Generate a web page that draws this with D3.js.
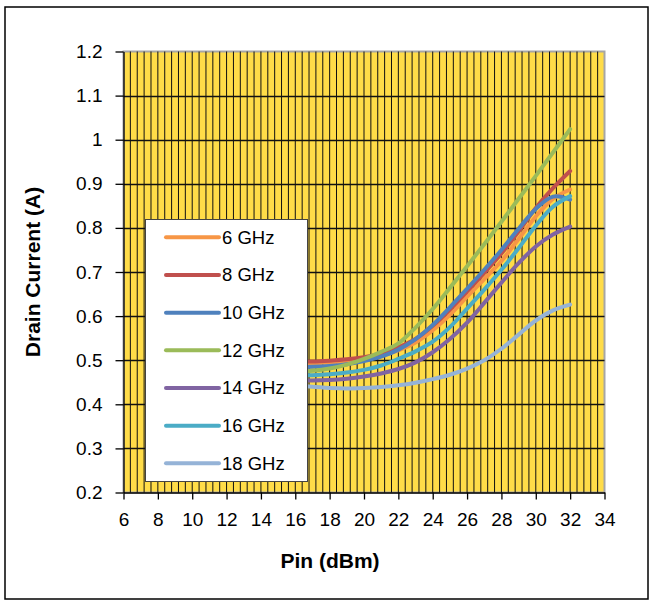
<!DOCTYPE html>
<html>
<head>
<meta charset="utf-8">
<script src="https://cdn.jsdelivr.net/npm/d3@7"></script>
<style>
  body { margin: 0; background: #fff; }
  svg { display: block; font-family: "Liberation Sans", Arial, sans-serif; }
</style>
</head>
<body>
<svg id="chart" width="653" height="604"></svg>
<script>
// input power steps (dBm)
const pin = [16, 17, 18, 19, 20, 21, 22, 23, 24, 25, 26, 27, 28, 29, 30, 31, 32];
// drain current (A) per frequency
const ghz6  = [0.494, 0.493, 0.495, 0.498, 0.503, 0.510, 0.522, 0.540, 0.568, 0.603, 0.644, 0.684, 0.725, 0.775, 0.826, 0.866, 0.887];
const ghz8  = [0.497, 0.497, 0.499, 0.502, 0.507, 0.515, 0.529, 0.548, 0.578, 0.615, 0.656, 0.698, 0.742, 0.792, 0.845, 0.890, 0.929];
const ghz10 = [0.485, 0.485, 0.487, 0.491, 0.498, 0.508, 0.524, 0.548, 0.580, 0.620, 0.662, 0.705, 0.750, 0.798, 0.843, 0.871, 0.864];
const ghz12 = [0.474, 0.476, 0.481, 0.490, 0.503, 0.519, 0.538, 0.574, 0.616, 0.664, 0.713, 0.763, 0.814, 0.866, 0.918, 0.971, 1.024];
const ghz14 = [0.455, 0.454, 0.455, 0.458, 0.463, 0.470, 0.480, 0.495, 0.518, 0.548, 0.585, 0.630, 0.676, 0.720, 0.758, 0.785, 0.803];
const ghz16 = [0.467, 0.466, 0.468, 0.472, 0.478, 0.488, 0.503, 0.520, 0.542, 0.575, 0.617, 0.660, 0.705, 0.754, 0.805, 0.848, 0.872];
const ghz18 = [0.442, 0.440, 0.437, 0.436, 0.437, 0.439, 0.443, 0.449, 0.457, 0.467, 0.481, 0.500, 0.526, 0.558, 0.590, 0.613, 0.626];

const seriesNames = ["6 GHz", "8 GHz", "10 GHz", "12 GHz", "14 GHz", "16 GHz", "18 GHz"];
const seriesValues = [ghz6, ghz8, ghz10, ghz12, ghz14, ghz16, ghz18];
const colors = ["#F79646", "#C0504D", "#4F81BD", "#9BBB59", "#8064A2", "#4BACC6", "#95B3D7"];

const xTicks = [6, 8, 10, 12, 14, 16, 18, 20, 22, 24, 26, 28, 30, 32, 34];
const yTicks = [0.2, 0.3, 0.4, 0.5, 0.6, 0.7, 0.8, 0.9, 1.0, 1.1, 1.2];
const yTickLabels = ["0.2", "0.3", "0.4", "0.5", "0.6", "0.7", "0.8", "0.9", "1", "1.1", "1.2"];

const svg = d3.select("#chart");

// outer frame
svg.append("rect")
   .attr("x", 5).attr("y", 7).attr("width", 643).attr("height", 592)
   .attr("fill", "#fff").attr("stroke", "#000").attr("stroke-width", 1.5);

const plot = {left: 123.5, right: 604.5, top: 51.5, bottom: 492.5};

const x = d3.scaleLinear().domain([6, 34]).range([plot.left, plot.right]);
const y = d3.scaleLinear().domain([0.2, 1.2]).range([plot.bottom, plot.top]);

// yellow plot area
svg.append("rect")
   .attr("x", plot.left).attr("y", plot.top)
   .attr("width", plot.right - plot.left).attr("height", plot.bottom - plot.top)
   .attr("fill", "#FFDC48")
   .attr("stroke", "#A6A6A6").attr("stroke-width", 2);

// minor vertical gridlines every 0.4 dBm (Excel major/5)
const minorX = d3.range(0, 71).map(i => 6 + i * 0.4);
svg.append("g").selectAll("line")
   .data(minorX.slice(1, -1))
   .enter().append("line")
   .attr("x1", d => x(d)).attr("x2", d => x(d))
   .attr("y1", plot.top).attr("y2", plot.bottom)
   .attr("stroke", "#111").attr("stroke-width", 1);

// horizontal gridlines
svg.append("g").selectAll("line")
   .data(yTicks.slice(1, -1))
   .enter().append("line")
   .attr("x1", plot.left).attr("x2", plot.right)
   .attr("y1", d => Math.round(y(d)) + 0.5).attr("y2", d => Math.round(y(d)) + 0.5)
   .attr("stroke", "#111").attr("stroke-width", 1.3);

// axes
const xAxis = d3.axisBottom(x)
                .tickValues(xTicks)
                .tickSize(7).tickSizeOuter(0).tickPadding(13)
                .tickFormat(d3.format("d"));
const yAxis = d3.axisLeft(y)
                .tickValues(yTicks)
                .tickSize(8).tickSizeOuter(0).tickPadding(13)
                .tickFormat((d, i) => yTickLabels[i]);

const gx = svg.append("g")
   .attr("transform", "translate(0," + plot.bottom + ")")
   .call(xAxis);
const gy = svg.append("g")
   .attr("transform", "translate(" + plot.left + ",0)")
   .call(yAxis);

[gx, gy].forEach(g => {
  g.select(".domain").attr("stroke", "#000").attr("stroke-width", 1.3);
  g.selectAll(".tick line").attr("stroke", "#000").attr("stroke-width", 1.3);
  g.selectAll(".tick text")
   .attr("fill", "#000")
   .attr("font-size", "19px")
   .attr("font-family", "Liberation Sans, Arial, sans-serif");
});

// series lines
const line = d3.line()
               .x((d, i) => x(pin[i]))
               .y(d => y(d))
               .curve(d3.curveCatmullRom.alpha(0.5));

svg.append("g").selectAll("path")
   .data(seriesValues)
   .enter().append("path")
   .attr("d", d => line(d))
   .attr("fill", "none")
   .attr("stroke", (d, i) => colors[i])
   .attr("stroke-width", 4)
   .attr("stroke-linecap", "round")
   .attr("stroke-linejoin", "round");

// legend (drawn on top, covers the start of the curves)
const legend = svg.append("g");
legend.append("rect")
      .attr("x", 145.5).attr("y", 219.5).attr("width", 162).attr("height", 262)
      .attr("fill", "#fff").attr("stroke", "#444").attr("stroke-width", 1);

const rows = legend.selectAll("g.item")
      .data(seriesNames)
      .enter().append("g")
      .attr("class", "item")
      .attr("transform", (d, i) => "translate(0," + (237.3 + i * 37.67) + ")");
rows.append("line")
    .attr("x1", 166).attr("x2", 219)
    .attr("y1", 0).attr("y2", 0)
    .attr("stroke", (d, i) => colors[i])
    .attr("stroke-width", 4)
    .attr("stroke-linecap", "round");
rows.append("text")
    .attr("x", 222).attr("y", 6.5)
    .attr("font-size", "18.5px")
    .attr("fill", "#000")
    .text(d => d);

// axis titles
svg.append("text")
   .attr("transform", "translate(40," + ((plot.top + plot.bottom) / 2) + ") rotate(-90)")
   .attr("text-anchor", "middle")
   .attr("font-size", "21px")
   .attr("font-weight", "bold")
   .text("Drain Current (A)");

svg.append("text")
   .attr("x", 330).attr("y", 568)
   .attr("text-anchor", "middle")
   .attr("font-size", "21px")
   .attr("font-weight", "bold")
   .text("Pin (dBm)");
</script>
</body>
</html>
